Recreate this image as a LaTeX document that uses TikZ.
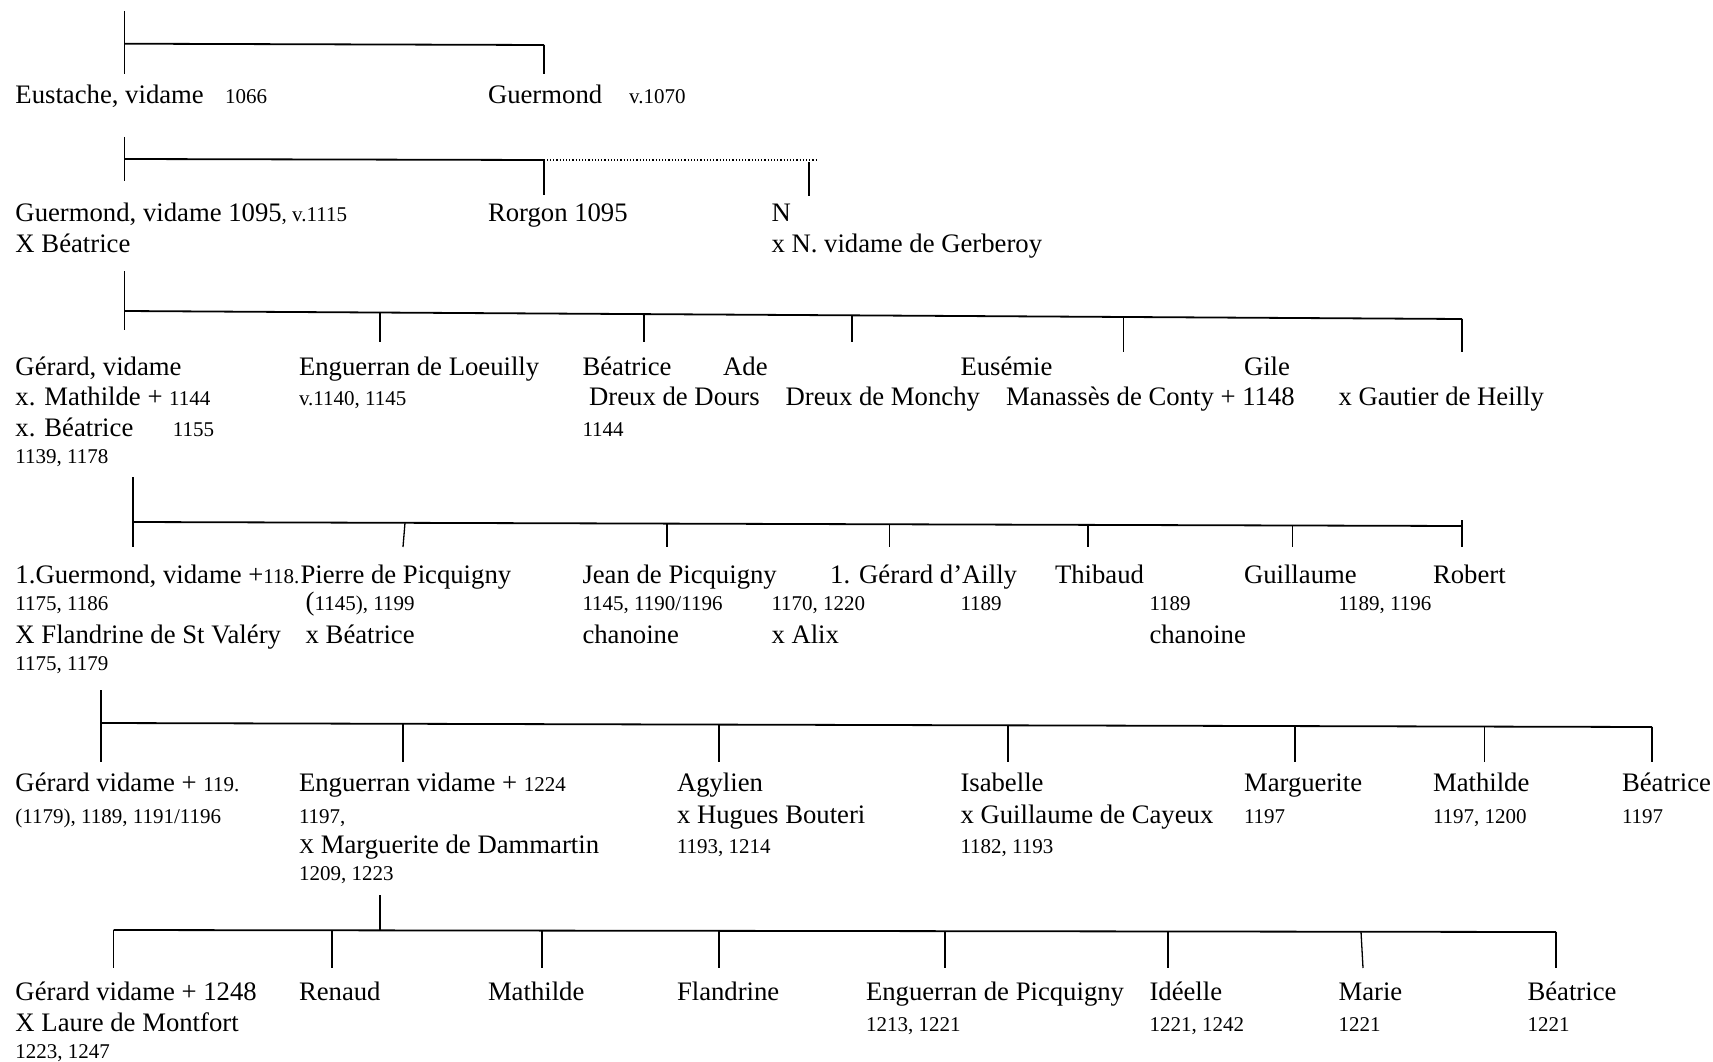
\documentclass[tikz,border=0pt]{standalone}
\usepackage{fontspec}
\setmainfont{Liberation Serif}
\newcommand\sm[1]{{\fontsize{21}{24}\selectfont #1}}
\begin{document}
\begin{tikzpicture}[x=1pt,y=-1pt,
  bigtxt/.style={anchor=base west,inner sep=0pt,font=\fontsize{26.7}{30}\selectfont},
  smtxt/.style={anchor=base west,inner sep=0pt,font=\fontsize{21}{24}\selectfont},
  bar/.style={line width=1.8pt},
  tickline/.style={line width=1.3pt},
  dotline/.style={line width=1.2pt,dotted}]
\useasboundingbox (0,0) rectangle (1713,1062);

% ---------- generation 1 ----------
\coordinate (a0) at (124.5,11);
\coordinate (a1) at (124.5,74);
\coordinate (aL) at (124.5,43.7);
\coordinate (aR) at (544,45);
\coordinate (aRb) at (544,74);
\draw[tickline] (a0) -- (a1);
\draw[bar] (aL) -- (aR);
\draw[tickline] (aR) -- (aRb);
\node[bigtxt] (eust) at (15.3,104) {Eustache, vidame};
\node[smtxt] (eustd) at (225,104) {1066};
\node[bigtxt] (guer) at (487.8,104) {Guermond};
\node[smtxt] (guerd) at (629,104) {v.1070};

% ---------- generation 2 ----------
\coordinate (b0) at (124.5,137);
\coordinate (b1) at (124.5,181);
\coordinate (bL) at (124.5,159);
\coordinate (bR) at (544,160);
\coordinate (bRb) at (544,195);
\coordinate (bD0) at (486,160);
\coordinate (bD1) at (818,160);
\coordinate (bN0) at (809,162);
\coordinate (bN1) at (809,196);
\draw[tickline] (b0) -- (b1);
\draw[bar] (bL) -- (bR);
\draw[tickline] (bR) -- (bRb);
\draw[dotline] (bD0) -- (bD1);
\draw[tickline] (bN0) -- (bN1);
\node[bigtxt] (guer2) at (15.3,221) {Guermond, vidame 1095\sm{, v.1115}};
\node[bigtxt] (guer2b) at (15.3,252) {X Béatrice};
\node[bigtxt] (rorg) at (487.8,221) {Rorgon 1095};
\node[bigtxt] (nn) at (771.3,221) {N};
\node[bigtxt] (nnb) at (771.3,252) {x N. vidame de Gerberoy};

% ---------- generation 3 ----------
\coordinate (c0) at (124.5,271);
\coordinate (c1) at (124.5,330);
\coordinate (cL) at (124.5,311);
\coordinate (cR) at (1462,319);
\draw[tickline] (c0) -- (c1);
\draw[bar] (cL) -- (cR);
\foreach \x/\yt/\yb in {380/312.5/342, 644/314.1/342, 852/315.4/342, 1123.5/317/352, 1462/319/352}
  \draw[tickline] (\x,\yt) -- (\x,\yb);
\node[bigtxt] (ger) at (15.3,375) {Gérard, vidame};
\node[bigtxt] (gerb) at (15.3,405) {x. Mathilde + \sm{1144}};
\node[bigtxt] (gerc) at (15.3,436) {x. Béatrice};
\node[smtxt] (gercd) at (172.6,436) {1155};
\node[smtxt] (gerd) at (15.3,463) {1139, 1178};
\node[bigtxt] (engl) at (298.8,375) {Enguerran de Loeuilly};
\node[smtxt] (engld) at (298.8,405) {v.1140, 1145};
\node[bigtxt] (beat) at (582.3,375) {Béatrice};
\node[bigtxt] (ade) at (723,375) {Ade};
\node[bigtxt] (dours) at (589,405) {Dreux de Dours};
\node[smtxt] (beatd) at (582.3,436) {1144};
\node[bigtxt] (monchy) at (785.5,405) {Dreux de Monchy};
\node[bigtxt] (eusem) at (960.3,375) {Eusémie};
\node[bigtxt] (conty) at (1006,405) {Manassès de Conty + 1148};
\node[bigtxt] (gile) at (1243.8,375) {Gile};
\node[bigtxt] (heilly) at (1338.3,405) {x Gautier de Heilly};

% ---------- generation 4 ----------
\coordinate (d0) at (133,477);
\coordinate (d1) at (133,547);
\coordinate (dL) at (133,522);
\coordinate (dR) at (1462,526);
\draw[tickline] (d0) -- (d1);
\draw[bar] (dL) -- (dR);
\draw[tickline] (405,522.8) -- (403,547);
\foreach \x/\yt in {667/523.6, 889.5/524.3, 1088/524.9, 1292.5/525.5, 1462/520}
  \draw[tickline] (\x,\yt) -- (\x,547);
\node[bigtxt] (gu3) at (15.3,583) {1.Guermond, vidame +\sm{118.}};
\node[smtxt] (gu3b) at (15.3,610) {1175, 1186};
\node[bigtxt] (gu3c) at (15.3,643) {X Flandrine de St Valéry};
\node[smtxt] (gu3d) at (15.3,670) {1175, 1179};
\node[bigtxt] (pier) at (300.4,583) {Pierre de Picquigny};
\node[bigtxt] (pierb) at (305.5,610) {(\sm{1145), 1199}};
\node[bigtxt] (pierc) at (305.5,643) {x Béatrice};
\node[bigtxt] (jean) at (582.3,583) {Jean de Picquigny};
\node[smtxt] (jeanb) at (582.3,610) {1145, 1190/1196};
\node[bigtxt] (jeanc) at (582.3,643) {chanoine};
\node[bigtxt] (ailly) at (830,583) {1. Gérard d’Ailly};
\node[smtxt] (aillyd) at (771.3,610) {1170, 1220};
\node[bigtxt] (alix) at (771.3,643) {x Alix};
\node[smtxt] (aillyd2) at (960.3,610) {1189};
\node[bigtxt] (thib) at (1054.8,583) {Thibaud};
\node[smtxt] (thibd) at (1149.3,610) {1189};
\node[bigtxt] (thibc) at (1149.3,643) {chanoine};
\node[bigtxt] (guil) at (1243.8,583) {Guillaume};
\node[smtxt] (guild) at (1338.3,610) {1189, 1196};
\node[bigtxt] (rob) at (1432.8,583) {Robert};

% ---------- generation 5 ----------
\coordinate (e0) at (101,690);
\coordinate (e1) at (101,762);
\coordinate (eL) at (101,723);
\coordinate (eR) at (1652,727);
\draw[tickline] (e0) -- (e1);
\draw[bar] (eL) -- (eR);
\foreach \x/\yt in {403/723.8, 719/724.6, 1008/725.3, 1295/726.1, 1484.6/726.6, 1652/727}
  \draw[tickline] (\x,\yt) -- (\x,762);
\node[bigtxt] (ger5) at (15.3,791) {Gérard vidame + \sm{119.}};
\node[smtxt] (ger5b) at (15.3,823) {(1179), 1189, 1191/1196};
\node[bigtxt] (eng5) at (298.8,791) {Enguerran vidame + \sm{1224}};
\node[smtxt] (eng5b) at (298.8,823) {1197,};
\node[bigtxt] (eng5c) at (298.8,853) {\sm{X} Marguerite de Dammartin};
\node[smtxt] (eng5d) at (298.8,880) {1209, 1223};
\node[bigtxt] (agy) at (676.8,791) {Agylien};
\node[bigtxt] (agyb) at (676.8,823) {x Hugues Bouteri};
\node[smtxt] (agyc) at (676.8,853) {1193, 1214};
\node[bigtxt] (isa) at (960.3,791) {Isabelle};
\node[bigtxt] (isab) at (960.3,823) {x Guillaume de Cayeux};
\node[smtxt] (isac) at (960.3,853) {1182, 1193};
\node[bigtxt] (marg) at (1243.8,791) {Marguerite};
\node[smtxt] (margb) at (1243.8,823) {1197};
\node[bigtxt] (math) at (1432.8,791) {Mathilde};
\node[smtxt] (mathb) at (1432.8,823) {1197, 1200};
\node[bigtxt] (beat5) at (1621.8,791) {Béatrice};
\node[smtxt] (beat5b) at (1621.8,823) {1197};

% ---------- generation 6 ----------
\coordinate (f0) at (380,895);
\coordinate (f1) at (380,930.5);
\coordinate (fL) at (113.6,930);
\coordinate (fR) at (1556,932);
\draw[tickline] (f0) -- (f1);
\draw[bar] (fL) -- (fR);
\foreach \x/\yt in {113.6/930, 332/930.3, 542/930.6, 719/930.8, 945/931.2, 1168/931.5, 1556/932}
  \draw[tickline] (\x,\yt) -- (\x,968);
\draw[tickline] (1361,931.7) -- (1363,968);
\node[bigtxt] (ger6) at (15.3,1000) {Gérard vidame + 1248};
\node[bigtxt] (ger6b) at (15.3,1031) {X Laure de Montfort};
\node[smtxt] (ger6c) at (15.3,1058) {1223, 1247};
\node[bigtxt] (ren) at (298.8,1000) {Renaud};
\node[bigtxt] (math6) at (487.8,1000) {Mathilde};
\node[bigtxt] (fland) at (676.8,1000) {Flandrine};
\node[bigtxt] (engp) at (865.8,1000) {Enguerran de Picquigny};
\node[smtxt] (engpd) at (865.8,1031) {1213, 1221};
\node[bigtxt] (ide) at (1149.3,1000) {Idéelle};
\node[smtxt] (ided) at (1149.3,1031) {1221, 1242};
\node[bigtxt] (mar) at (1338.3,1000) {Marie};
\node[smtxt] (mard) at (1338.3,1031) {1221};
\node[bigtxt] (beat6) at (1527.3,1000) {Béatrice};
\node[smtxt] (beat6d) at (1527.3,1031) {1221};
\end{tikzpicture}
\end{document}
